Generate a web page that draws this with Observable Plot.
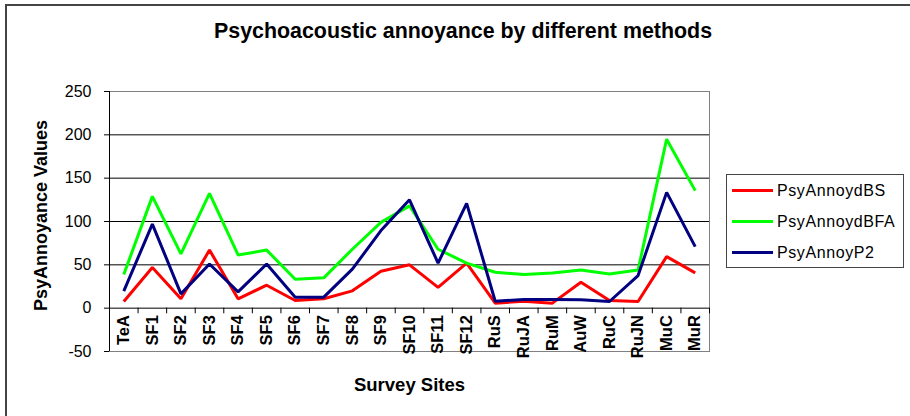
<!DOCTYPE html>
<html>
<head>
<meta charset="utf-8">
<script src="https://cdn.jsdelivr.net/npm/d3@7"></script>
<script src="https://cdn.jsdelivr.net/npm/@observablehq/plot@0.6"></script>
<style>
  html, body { margin: 0; padding: 0; background: #fff; overflow: hidden; }
  #wrap { position: relative; width: 910px; height: 416px; font-family: "Liberation Sans", Arial, sans-serif; }
  #border { position: absolute; left: 5px; top: 4px; width: 960px; height: 460px; border: 2px solid #444; box-sizing: border-box; }
  #title { position: absolute; left: 463px; top: 21px; transform: translateX(-50%); white-space: nowrap; font-size: 21.4px; font-weight: bold; line-height: 1; color: #000; }
  #legend { position: absolute; left: 726px; top: 174px; width: 178px; height: 94px; border: 1px solid #444; box-sizing: border-box; background: #fff; padding-top: 0px; }
  .row { display: flex; align-items: center; height: 31px; }
  .sw { width: 41px; height: 3px; margin-left: 5px; margin-right: 4px; }
  .lab { font-size: 16px; letter-spacing: 0.6px; color: #000; white-space: nowrap; }
  #chart { position: absolute; left: 0; top: 0; }
</style>
</head>
<body>
<div id="wrap">
  <div id="border"></div>
  <div id="chart"></div>
  <div id="title">Psychoacoustic annoyance by different methods</div>
  <div id="legend"></div>
</div>
<script>
const sites = ["TeA","SF1","SF2","SF3","SF4","SF5","SF6","SF7","SF8","SF9","SF10","SF11","SF12","RuS","RuJA","RuM","AuW","RuC","RuJN","MuC","MuR"];
const psyAnnoydBS  = [7.7, 47, 10.8, 67, 10.8, 26.5, 8.8, 10.8, 20, 42.6, 50, 24, 52, 5.8, 8, 5.8, 30, 8.8, 7.7, 59.5, 40.7];
const psyAnnoydBFA = [38.8, 129, 62.6, 132.5, 61.4, 67, 33.4, 35, 68, 99, 118, 68, 52, 41.5, 38.8, 40.7, 44, 39.5, 44, 195, 135.6];
const psyAnnoyP2   = [19.6, 97, 16.5, 51, 18.8, 51, 12.7, 12.7, 45, 89.5, 125, 52, 121, 8, 10, 10, 9.6, 7.7, 37.6, 133.6, 71];
const seriesNames  = ["PsyAnnoydBS", "PsyAnnoydBFA", "PsyAnnoyP2"];
const seriesColors = ["#ff0000", "#00ff00", "#000080"];
const yTicks = [-50, 0, 50, 100, 150, 200, 250];
const gridValues = [50, 100, 150, 200];

const seriesValues = [psyAnnoydBS, psyAnnoydBFA, psyAnnoyP2];
const rows = [];
seriesValues.forEach((vals, s) => vals.forEach((v, i) => rows.push({series: seriesNames[s], idx: i, site: sites[i], value: v})));
const siteIdx = sites.map((s, i) => ({site: s, idx: i}));
const boundaries = d3.range(sites.length + 1).map(i => i - 0.5);

const font = "Liberation Sans, Arial, sans-serif";

const chart = Plot.plot({
  width: 910,
  height: 416,
  marginLeft: 109,
  marginRight: 201,
  marginTop: 91,
  marginBottom: 65,
  style: {fontFamily: font, background: "transparent", color: "#000", overflow: "visible"},
  x: {type: "linear", domain: [-0.5, sites.length - 0.5], axis: null},
  y: {domain: [-50, 250], axis: null},
  color: {domain: seriesNames, range: seriesColors},
  marks: [
    Plot.ruleY(gridValues, {stroke: "#000", strokeWidth: 1}),
    Plot.frame({stroke: "#808080", strokeWidth: 1}),
    Plot.ruleX([-0.5], {stroke: "#000", strokeWidth: 1}),
    Plot.ruleY([0], {stroke: "#000", strokeWidth: 1}),
    Plot.axisY({ticks: yTicks, tickSize: 5, tickPadding: 13, fontSize: 16, tickFormat: d => String(d), label: null, stroke: "#000"}),
    Plot.ruleX(boundaries, {y1: 0, y2: -6.5, stroke: "#000", strokeWidth: 1}),
    Plot.line(rows, {x: "idx", y: "value", z: "series", stroke: "series", strokeWidth: 3, strokeLinejoin: "miter", strokeLinecap: "butt"}),
    Plot.text(siteIdx, {x: "idx", y: 0, text: "site", rotate: -90, textAnchor: "end", lineAnchor: "middle", dy: 7, fontSize: 16.5, fontWeight: "bold", fill: "#000"}),
    Plot.text(["PsyAnnoyance Values"], {frameAnchor: "left", dx: -68, dy: -6, rotate: -90, textAnchor: "middle", lineAnchor: "middle", fontSize: 18, fontWeight: "bold", fill: "#000"}),
    Plot.text(["Survey Sites"], {frameAnchor: "bottom", dy: 34, lineAnchor: "middle", fontSize: 18.5, fontWeight: "bold", fill: "#000"})
  ]
});
document.getElementById("chart").appendChild(chart);

const legend = document.getElementById("legend");
seriesNames.forEach((name, i) => {
  const row = document.createElement("div");
  row.className = "row";
  const sw = document.createElement("div");
  sw.className = "sw";
  sw.style.background = seriesColors[i];
  const lab = document.createElement("span");
  lab.className = "lab";
  lab.textContent = name;
  row.appendChild(sw);
  row.appendChild(lab);
  legend.appendChild(row);
});
</script>
</body>
</html>
